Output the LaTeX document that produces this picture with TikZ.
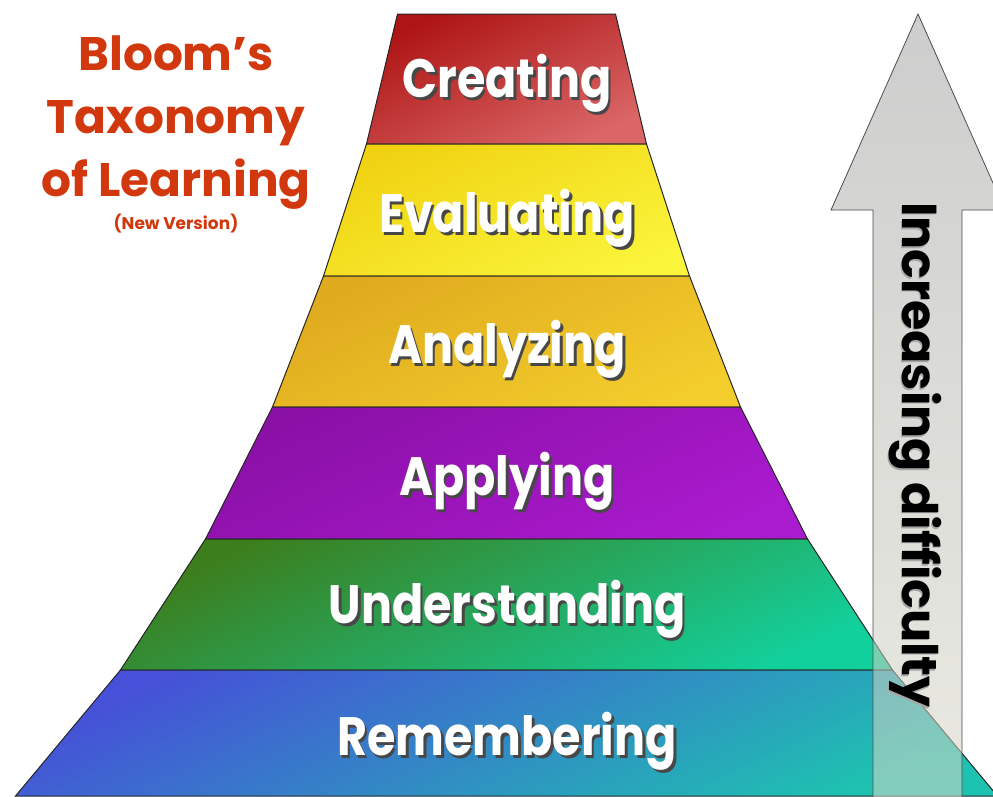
\documentclass[tikz,border=0pt]{standalone}
\usepackage{fontspec}
\setmainfont{Poppins}
\usepackage{xcolor}
\usetikzlibrary{positioning}

\definecolor{TitleRed}{HTML}{D2380E}
\definecolor{CreateA}{HTML}{AE1414}
\definecolor{CreateB}{HTML}{DA6666}
\definecolor{EvalA}{HTML}{F0D212}
\definecolor{EvalB}{HTML}{FAF43A}
\definecolor{AnalA}{HTML}{DFAA1E}
\definecolor{AnalB}{HTML}{F3CD2C}
\definecolor{ApplA}{HTML}{8A10A6}
\definecolor{ApplB}{HTML}{AA1ACE}
\definecolor{UndA}{HTML}{3C7D1C}
\definecolor{UndB}{HTML}{12D09C}
\definecolor{RemA}{HTML}{4650D8}
\definecolor{RemB}{HTML}{1EC2B0}
\definecolor{ArrowA}{HTML}{A4A4A4}
\definecolor{ArrowB}{HTML}{D8D8CA}

\tikzset{
  Level/.style={draw=black!85, line width=1pt},
  LevelLabel/.style={text=white, inner sep=0pt,
    font=\fontsize{47}{54}\selectfont\bfseries},
  Title/.style={text=TitleRed, align=center, inner sep=0pt,
    font=\fontsize{47}{63}\selectfont\bfseries},
  BigArrow/.style={draw=black!70, line width=0.8pt, fill opacity=0.55,
    top color=ArrowA, bottom color=ArrowB},
  ArrowText/.style={rotate=-90, inner sep=0pt, text=black,
    font=\fontsize{49}{54}\selectfont\bfseries},
}

% text with a dark drop shadow, in one box
\newcommand{\Shadowed}[3]{%
  \makebox[0pt][l]{\hspace{#2}\raisebox{-#2}{\textcolor{#3}{#1}}}#1}
\newcommand{\Tall}[1]{\scalebox{0.98}[1.15]{\Shadowed{#1}{2.6pt}{black!72}}}
\newcommand{\LevelName}[3]{%
  \node[LevelLabel] (#1) at (#2) {\Tall{#3}};
}

\begin{document}
\begin{tikzpicture}[x=1pt,y=-1pt]
\useasboundingbox (0,0) rectangle (993,796);
\clip (0,0) rectangle (993,796);
% pyramid layers, top to bottom
\foreach \ytop/\wtop/\ybot/\wbot/\ca/\cb in {
    14/109/144/140/CreateA/CreateB,
    144/140/276/183/EvalA/EvalB,
    276/183/407/234/AnalA/AnalB,
    407/234/539/301/ApplA/ApplB,
    539/301/670/386/UndA/UndB,
    670/386/796/491/RemA/RemB}
  \shadedraw[Level, top color=\ca, bottom color=\cb, shading angle=25]
    (506.5-\wtop,\ytop) -- (506.5+\wtop,\ytop) -- (506.5+\wbot,\ybot)
    -- (506.5-\wbot,\ybot) -- cycle;
\LevelName{CREATE}{507,85}{Creating}
\LevelName{EVAL}{507,220}{Evaluating}
\LevelName{ANAL}{507,351}{Analyzing}
\LevelName{APPL}{507,483}{Applying}
\LevelName{UND}{507,611}{Understanding}
\LevelName{REM}{507,743}{Remembering}
% arrow on the right
\path[BigArrow] (918,14) -- (1005,210) -- (962,210) -- (962,800)
  -- (873,800) -- (873,210) -- (831,210) -- cycle;
\node[ArrowText] (DIFF) at (915,455) {\Shadowed{Increasing difficulty}{1.5pt}{black!35}};
% title
\node[Title, anchor=north] (TITLE) at (176,36) {Bloom’s\\Taxonomy\\of Learning};
\node[text=TitleRed, inner sep=0pt, below=4pt of TITLE,
  font=\fontsize{17}{20}\selectfont\bfseries] (VERSION) {(New Version)};
\end{tikzpicture}
\end{document}
